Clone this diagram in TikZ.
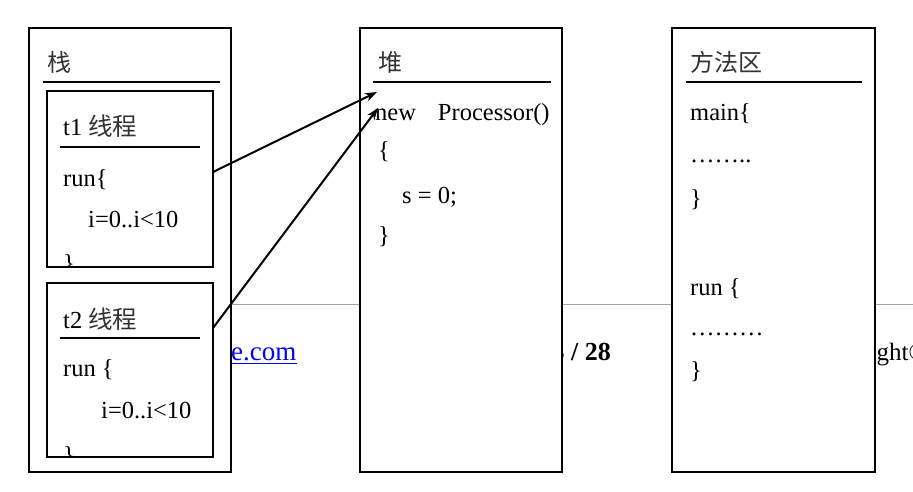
\documentclass[tikz,border=0pt]{standalone}
\usepackage{fontspec}
\setmainfont{Liberation Serif}
\newfontfamily\cjk{Noto Sans CJK SC}
\usetikzlibrary{arrows.meta}
\definecolor{linkblue}{RGB}{0,0,255}
\definecolor{pagegray}{RGB}{165,165,165}
\begin{document}
\begin{tikzpicture}[x=1pt,y=-1pt,
  outerbox/.style={draw=black, fill=white, line width=1.4pt, inner sep=0pt, outer sep=0pt, anchor=north west},
  innerbox/.style={draw=black, fill=white, line width=2pt, inner sep=0pt, outer sep=0pt, anchor=north west},
  txt/.style={inner sep=0pt, anchor=base west, font=\fontsize{24.5}{28}\selectfont, text=black},
  cjktxt/.style={txt, font=\fontsize{24}{28}\selectfont\cjk, text=black!80},
  rule/.style={line width=2pt},
  thinrule/.style={line width=1.1pt},
  arr/.style={line width=2pt, -{Stealth[length=12pt,width=8.5pt]}}
]
\useasboundingbox (0,0) rectangle (913,492);
\fill[white] (0,0) rectangle (913,492);

% page background remnants
\draw[pagegray, line width=1pt] (100,304) -- (913,304);
\node[txt, font=\fontsize{27}{30}\selectfont, text=linkblue] (link) at (231,360) {e.com};
\draw[linkblue, line width=1pt] (link.base west) ++(0,3) -- ++(66,0);
\node[txt, anchor=base east, font=\fontsize{26}{29}\selectfont\bfseries] (page) at (611,360) {3 / 28};
\node[txt, font=\fontsize{25}{28}\selectfont] (copy) at (807,360) {Copyright©};

% stack
\node[outerbox, minimum width=202pt, minimum height=444pt] (stack) at (29,28) {};
\node[cjktxt] (stitle) at (47,72) {栈};
\draw[rule] (43,82) -- (220,82);

\node[innerbox, minimum width=166pt, minimum height=176pt] (t1) at (47,91) {};
\node[txt] (t1title) at (63,136) {t1 {\cjk\color{black!80}线程}};
\draw[thinrule] (60,147) -- (200,147);
\node[txt] (t1run) at (63,186) {run\{};
\node[txt] (t1loop) at (88,227) {i=0..i<10};
\begin{scope}
  \clip (48,92) rectangle (212,266);
  \node[txt] (t1close) at (63,271) {\}};
\end{scope}

\node[innerbox, minimum width=166pt, minimum height=174pt] (t2) at (47,283) {};
\node[txt] (t2title) at (63,328) {t2 {\cjk\color{black!80}线程}};
\draw[rule] (60,338) -- (200,338);
\node[txt] (t2run) at (63,376) {run \{};
\node[txt] (t2loop) at (101,418) {i=0..i<10};
\begin{scope}
  \clip (48,284) rectangle (212,456);
  \node[txt] (t2close) at (63,463) {\}};
\end{scope}

% heap
\node[outerbox, minimum width=202pt, minimum height=444pt] (heap) at (360,28) {};
\node[cjktxt] (htitle) at (378,72) {堆};
\draw[rule] (373,82) -- (551,82);
\node[txt] (hnew) at (375,121) {new\hspace{22pt}Processor()};
\node[txt] (hopen) at (378,158) {\{};
\node[txt] (hs) at (402,203) {s = 0;};
\node[txt] (hclose) at (378,243) {\}};

% method area
\node[outerbox, minimum width=203pt, minimum height=444pt] (method) at (672,28) {};
\node[cjktxt] (mtitle) at (690,72) {方法区};
\draw[rule] (686,82) -- (862,82);
\node[txt] (mmain) at (690,121) {main\{};
\node[txt] (mdots1) at (690,163) {……..};
\node[txt] (mclose1) at (690,206) {\}};
\node[txt] (mrun) at (690,295) {run \{};
\node[txt] (mdots2) at (690,335) {………};
\node[txt] (mclose2) at (690,378) {\}};

% arrows
\coordinate (tip1) at (377,92);
\coordinate (tip2) at (378,108);
\draw[arr] ([yshift=7pt]t1.east) -- (tip1);
\draw[arr] ([yshift=42pt]t2.east) -- (tip2);
\end{tikzpicture}
\end{document}
